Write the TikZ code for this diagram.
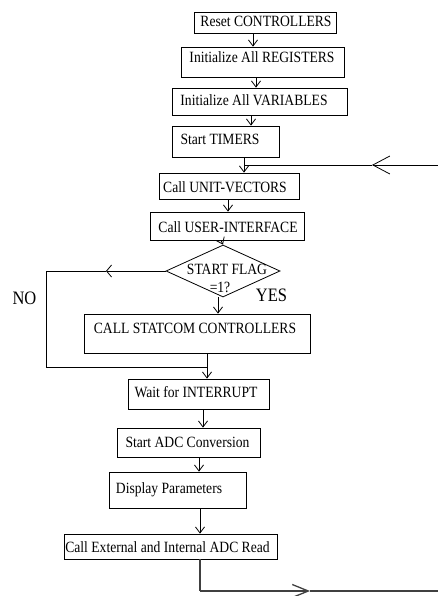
\documentclass[tikz,border=0pt]{standalone}
\usepackage{fontspec}
\setmainfont{Liberation Serif}
\usetikzlibrary{arrows.meta,shapes.geometric}
\newcommand{\tallt}[1]{\scalebox{1}[1.15]{#1}}
\begin{document}
\begin{tikzpicture}[x=1pt,y=-1pt,line width=0.8pt,
  box/.style={draw,inner sep=0pt},
  txt/.style={anchor=base,inner sep=0pt,font=\fontsize{13.6}{16}\selectfont},
  big/.style={anchor=base,inner sep=0pt,font=\fontsize{16.5}{19}\selectfont},
  arr/.style={-{Straight Barb[length=6pt,width=9pt]}},
  arrbig/.style={-{Straight Barb[length=17pt,width=18pt]}},
  arrno/.style={-{Straight Barb[length=5pt,width=12pt]}},
  arrbot/.style={-{Straight Barb[length=16pt,width=13pt]}},
  botline/.style={line width=1.3pt,draw=black!75}]
\useasboundingbox (0,0) rectangle (438,596);
% boxes
\node[box,minimum width=142pt,minimum height=21pt] (b1) at (265,22.5) {};
\node[box,minimum width=163pt,minimum height=30pt] (b2) at (262.5,62) {};
\node[box,minimum width=175pt,minimum height=27pt] (b3) at (259.5,101.5) {};
\node[box,minimum width=107pt,minimum height=31pt] (b4) at (225.5,141.5) {};
\node[box,minimum width=140pt,minimum height=26pt] (b5) at (229,186) {};
\node[box,minimum width=154pt,minimum height=28pt] (b6) at (227,226) {};
\node[box,shape=diamond,minimum width=114pt,minimum height=52pt] (dia) at (223,271) {};
\node[box,minimum width=226pt,minimum height=39pt] (b7) at (197,333.5) {};
\node[box,minimum width=141pt,minimum height=30pt] (b8) at (198.5,394) {};
\node[box,minimum width=143pt,minimum height=29pt] (b9) at (188.5,442.5) {};
\node[box,minimum width=137pt,minimum height=36pt] (b10) at (177.5,490) {};
\node[box,minimum width=213pt,minimum height=25pt] (b11) at (170.5,546.5) {};
% texts
\node[txt] (t1) at (266,27) {\tallt{Reset CONTROLLERS}};
\node[txt] (t2) at (262,63) {\tallt{Initialize All REGISTERS}};
\node[txt] (t3) at (254,106) {\tallt{Initialize All VARIABLES}};
\node[txt] (t4) at (220,145) {\tallt{Start TIMERS}};
\node[txt] (t5) at (225,192) {\tallt{Call UNIT-VECTORS}};
\node[txt] (t6) at (228,232) {\tallt{Call USER-INTERFACE}};
\node[txt] (td1) at (227,274) {\tallt{START FLAG}};
\node[txt] (td2) at (220,292) {\tallt{=1?}};
\node[txt] (t7) at (195,333) {\tallt{CALL STATCOM CONTROLLERS}};
\node[txt] (t8) at (196,397) {\tallt{Wait for INTERRUPT}};
\node[txt] (t9) at (187.5,447) {\tallt{Start ADC Conversion}};
\node[txt] (t10) at (169,493) {\tallt{Display Parameters}};
\node[txt] (t11) at (167.5,552) {\tallt{Call External and Internal ADC Read}};
\node[big] (no) at (24.5,304) {\tallt{NO}};
\node[big] (yes) at (271.5,301) {\tallt{YES}};
% helper coordinates
\coordinate (x1) at (253,0);
\coordinate (x2) at (256,0);
\coordinate (x3) at (251,0);
\coordinate (j1) at (244,165);
\coordinate (fbR) at (438,165);
\coordinate (fbM) at (372,165);
\coordinate (x5) at (228,0);
\coordinate (x6) at (221,0);
\coordinate (x7) at (218,0);
\coordinate (j2) at (207,367);
\coordinate (nl) at (46,0);
\coordinate (nm) at (106,0);
\coordinate (x8) at (203,0);
\coordinate (x9) at (199,0);
\coordinate (x10) at (200,0);
\coordinate (bc) at (200,591);
\coordinate (bm) at (310,591);
\coordinate (bR) at (438,591);
% connectors
\draw[arr] (b1.south -| x1) -- (b2.north -| x1);
\draw[arr] (b2.south -| x2) -- (b3.north -| x2);
\draw[arr] (b3.south -| x3) -- (b4.north -| x3);
\draw (b4.south -| j1) -- (j1);
\draw[arrbig] (fbR) -- (fbM);
\draw (fbM) -- (j1);
\draw[arr] (j1) -- (j1 |- b5.north);
\draw[arr] (b5.south -| x5) -- (b6.north -| x5);
\draw[arr] (b6.south -| x6) -- (dia.north);
\draw[arr] (dia.south -| x7) -- (b7.north -| x7);
\draw[arrno] (dia.west) -- (nm |- dia.west);
\draw (nm |- dia.west) -- (nl |- dia.west) -- (nl |- j2) -- (j2);
\draw (b7.south -| j2) -- (j2);
\draw[arr] (j2) -- (j2 |- b8.north);
\draw[arr] (b8.south -| x8) -- (b9.north -| x8);
\draw[arr] (b9.south -| x9) -- (b10.north -| x9);
\draw[arr] (b10.south -| x10) -- (b11.north -| x10);
\draw[botline] (b11.south -| bc) -- (bc);
\draw[botline,arrbot] (bc) -- (bm);
\draw[botline] (bm) -- (bR);
\end{tikzpicture}
\end{document}
